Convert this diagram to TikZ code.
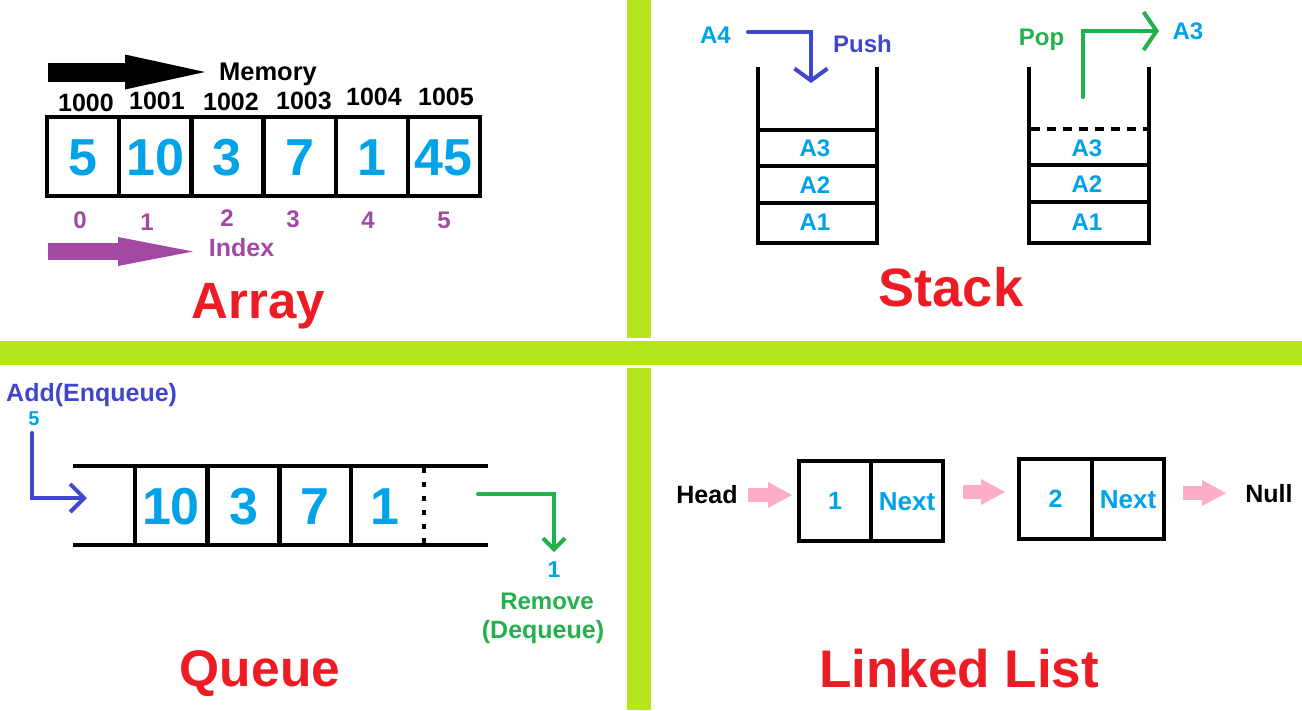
\documentclass[tikz,border=0pt]{standalone}
\usepackage{fontspec}
\setmainfont{Liberation Sans}
\usetikzlibrary{arrows.meta,calc}
\definecolor{lime}{HTML}{B5E61D}
\definecolor{tred}{HTML}{ED1C24}
\definecolor{cyan}{HTML}{00A2E8}
\definecolor{purp}{HTML}{A349A4}
\definecolor{grn}{HTML}{22B14C}
\definecolor{indi}{HTML}{3F48CC}
\definecolor{pnk}{HTML}{FFAEC9}
\newcommand\setfs[1]{\fontsize{#1}{#1}\selectfont\bfseries}
\tikzset{
  f20/.style={font=\setfs{20},text height=14.3pt,text depth=0pt,inner sep=0pt},
  f23/.style={font=\setfs{23},text height=16.5pt,text depth=0pt,inner sep=0pt},
  f24/.style={font=\setfs{24},text height=17.2pt,text depth=0pt,inner sep=0pt},
  f25/.style={font=\setfs{25},text height=17.9pt,text depth=0pt,inner sep=0pt},
  f26/.style={font=\setfs{26},text height=18.6pt,text depth=0pt,inner sep=0pt},
  f52/.style={font=\setfs{52},text height=37.2pt,text depth=0pt,inner sep=0pt},
  title/.style={text depth=0pt,inner sep=0pt,text=tred},
  cell/.style={f52,draw,line width=4.3pt,minimum width=72.17,minimum height=79,text=cyan},
  llbox/.style={draw,line width=4.3pt,minimum height=80,inner sep=0pt},
  wall/.style={line width=4.3pt,line join=miter},
  barb/.style={line width=4pt,line cap=round,line join=miter},
  pinkarrow/.style={pnk,line width=14pt,-{Triangle[length=24pt,width=26pt,line width=0pt]}},
}
\begin{document}
\begin{tikzpicture}[x=1pt,y=-1pt]
\useasboundingbox (0,0) rectangle (1302,710);
\fill[white] (0,0) rectangle (1302,710);
% separators
\fill[lime] (627,0) rectangle (651,338);
\fill[lime] (0,341) rectangle (1302,365);
\fill[lime] (627,368) rectangle (651,710);

% ================= ARRAY =================
\coordinate (memS) at (48,72);
\coordinate (memE) at (205,72);
\draw[black,line width=19pt,-{Triangle[length=80pt,width=35pt,line width=0pt]}] (memS) -- (memE);
\node[font=\setfs{25.5},text height=18.3pt,text depth=0pt,inner sep=0pt] (memory) at (268,71.7) {Memory};
\node[f25] (a0) at (86,103) {1000};
\node[f25] (a1) at (157,101) {1001};
\node[f25] (a2) at (231,102) {1002};
\node[f25] (a3) at (304,101) {1003};
\node[f25] (a4) at (374,97) {1004};
\node[f25] (a5) at (446,97) {1005};
\node[cell] (c0) at (83.1,156.5) {5};
\node[cell] (c1) at (155.3,156.5) {10};
\node[cell] (c2) at (227.4,156.5) {3};
\node[cell] (c3) at (299.6,156.5) {7};
\node[cell] (c4) at (371.8,156.5) {1};
\node[cell] (c5) at (443.9,156.5) {45};
\node[f24,text=purp] (i0) at (80,220) {0};
\node[f24,text=purp] (i1) at (147,222) {1};
\node[f24,text=purp] (i2) at (227,218) {2};
\node[f24,text=purp] (i3) at (293,219) {3};
\node[f24,text=purp] (i4) at (368,220) {4};
\node[f24,text=purp] (i5) at (444,220) {5};
\coordinate (idxS) at (48,251.5);
\coordinate (idxE) at (193,251.5);
\draw[purp,line width=17pt,-{Triangle[length=75pt,width=29pt,line width=0pt]}] (idxS) -- (idxE);
\node[f25,text=purp] (index) at (241.5,248) {Index};
\node[title,font=\setfs{51},text height=36.5pt] (tarray) at (258.3,300) {Array};

% ================= STACK =================
\node[f24,text=cyan] (a4lbl) at (715.5,34.5) {A4};
\node[f24,text=indi] (push) at (862.5,43.5) {Push};
\coordinate (pushS) at (748,32);
\coordinate (pushE) at (811,83);
\draw[indi,barb,-{Straight Barb[length=12pt,width=33pt]}] (pushS) -| (pushE);
\draw[wall] (757.7,67) -- (757.7,243) -- (877,243) -- (877,67);
\draw[wall] (757.7,130) -- (877,130);
\draw[wall] (757.7,166) -- (877,166);
\draw[wall] (757.7,203) -- (877,203);
\node[f24,text=cyan] (l3) at (815,148) {A3};
\node[f24,text=cyan] (l2) at (815,185) {A2};
\node[f24,text=cyan] (l1) at (815,222) {A1};

\node[f24,text=grn] (pop) at (1041.5,37) {Pop};
\node[f24,text=cyan] (a3out) at (1188,31) {A3};
\coordinate (popS) at (1083,97);
\coordinate (popE) at (1159,31);
\draw[grn,barb,-{Straight Barb[length=13pt,width=38pt]}] (popS) |- (popE);
\draw[wall] (1029,67) -- (1029,243) -- (1149,243) -- (1149,67);
\draw[wall,dash pattern=on 9pt off 7pt] (1031,129) -- (1149,129);
\draw[wall] (1029,165) -- (1149,165);
\draw[wall] (1029,202) -- (1149,202);
\node[f24,text=cyan] (r3) at (1087,148) {A3};
\node[f24,text=cyan] (r2) at (1087,184) {A2};
\node[f24,text=cyan] (r1) at (1087,222) {A1};
\node[title,font=\setfs{54},text height=38.7pt] (tstack) at (951,287) {Stack};

% ================= QUEUE =================
\node[f25,text=indi,anchor=west] (enq) at (6,393) {Add(Enqueue)};
\node[f20,text=cyan] (five) at (34,418.5) {5};
\coordinate (enqS) at (32,433);
\coordinate (enqE) at (87,498);
\draw[indi,barb,-{Straight Barb[length=14pt,width=28pt]}] (enqS) |- (enqE);
\draw[wall] (73,466) -- (488,466);
\draw[wall] (73,545) -- (488,545);
\foreach \x in {135,207.5,279.5,351} \draw[wall] (\x,466) -- (\x,545);
\draw[line width=4pt,dash pattern=on 5pt off 9pt] (423.7,468) -- (423.7,545);
\node[f52,text=cyan] (q1) at (171,505.5) {10};
\node[f52,text=cyan] (q2) at (243.5,505.5) {3};
\node[f52,text=cyan] (q3) at (315,505.5) {7};
\node[f52,text=cyan] (q4) at (385,505.5) {1};
\coordinate (deqS) at (478,494);
\coordinate (deqE) at (554,552);
\draw[grn,barb,-{Straight Barb[length=11pt,width=22pt]}] (deqS) -| (deqE);
\node[f23,text=cyan] (one) at (554,569) {1};
\node[f24,text=grn] (remove) at (547,601) {Remove};
\node[f25,text=grn] (deq) at (543,630) {(Dequeue)};
\node[title,font=\setfs{51.5},text height=36.9pt] (tqueue) at (260,668.5) {Queue};

% ================= LINKED LIST =================
\node[f25] (head) at (707,495) {Head};
\node[llbox,minimum width=72,f25,text=cyan,minimum height=80] (n1v) at (835,501) {1};
\node[llbox,minimum width=72,f26,text=cyan,minimum height=80] (n1n) at (907,501) {Next};
\node[llbox,minimum width=73,f25,text=cyan,minimum height=80] (n2v) at (1055.5,499) {2};
\node[llbox,minimum width=72,f26,text=cyan,minimum height=80] (n2n) at (1128,499) {Next};
\node[f25] (null) at (1269,494) {Null};
\coordinate (p1s) at (748,495);
\coordinate (p1e) at (792,495);
\coordinate (p2s) at (963,492);
\coordinate (p2e) at (1005,492);
\coordinate (p3s) at (1183,493);
\coordinate (p3e) at (1226,493);
\draw[pinkarrow] (p1s) -- (p1e);
\draw[pinkarrow] (p2s) -- (p2e);
\draw[pinkarrow] (p3s) -- (p3e);
\node[title,font=\setfs{53},text height=37.9pt] (tll) at (959,668.5) {Linked List};
\end{tikzpicture}
\end{document}
